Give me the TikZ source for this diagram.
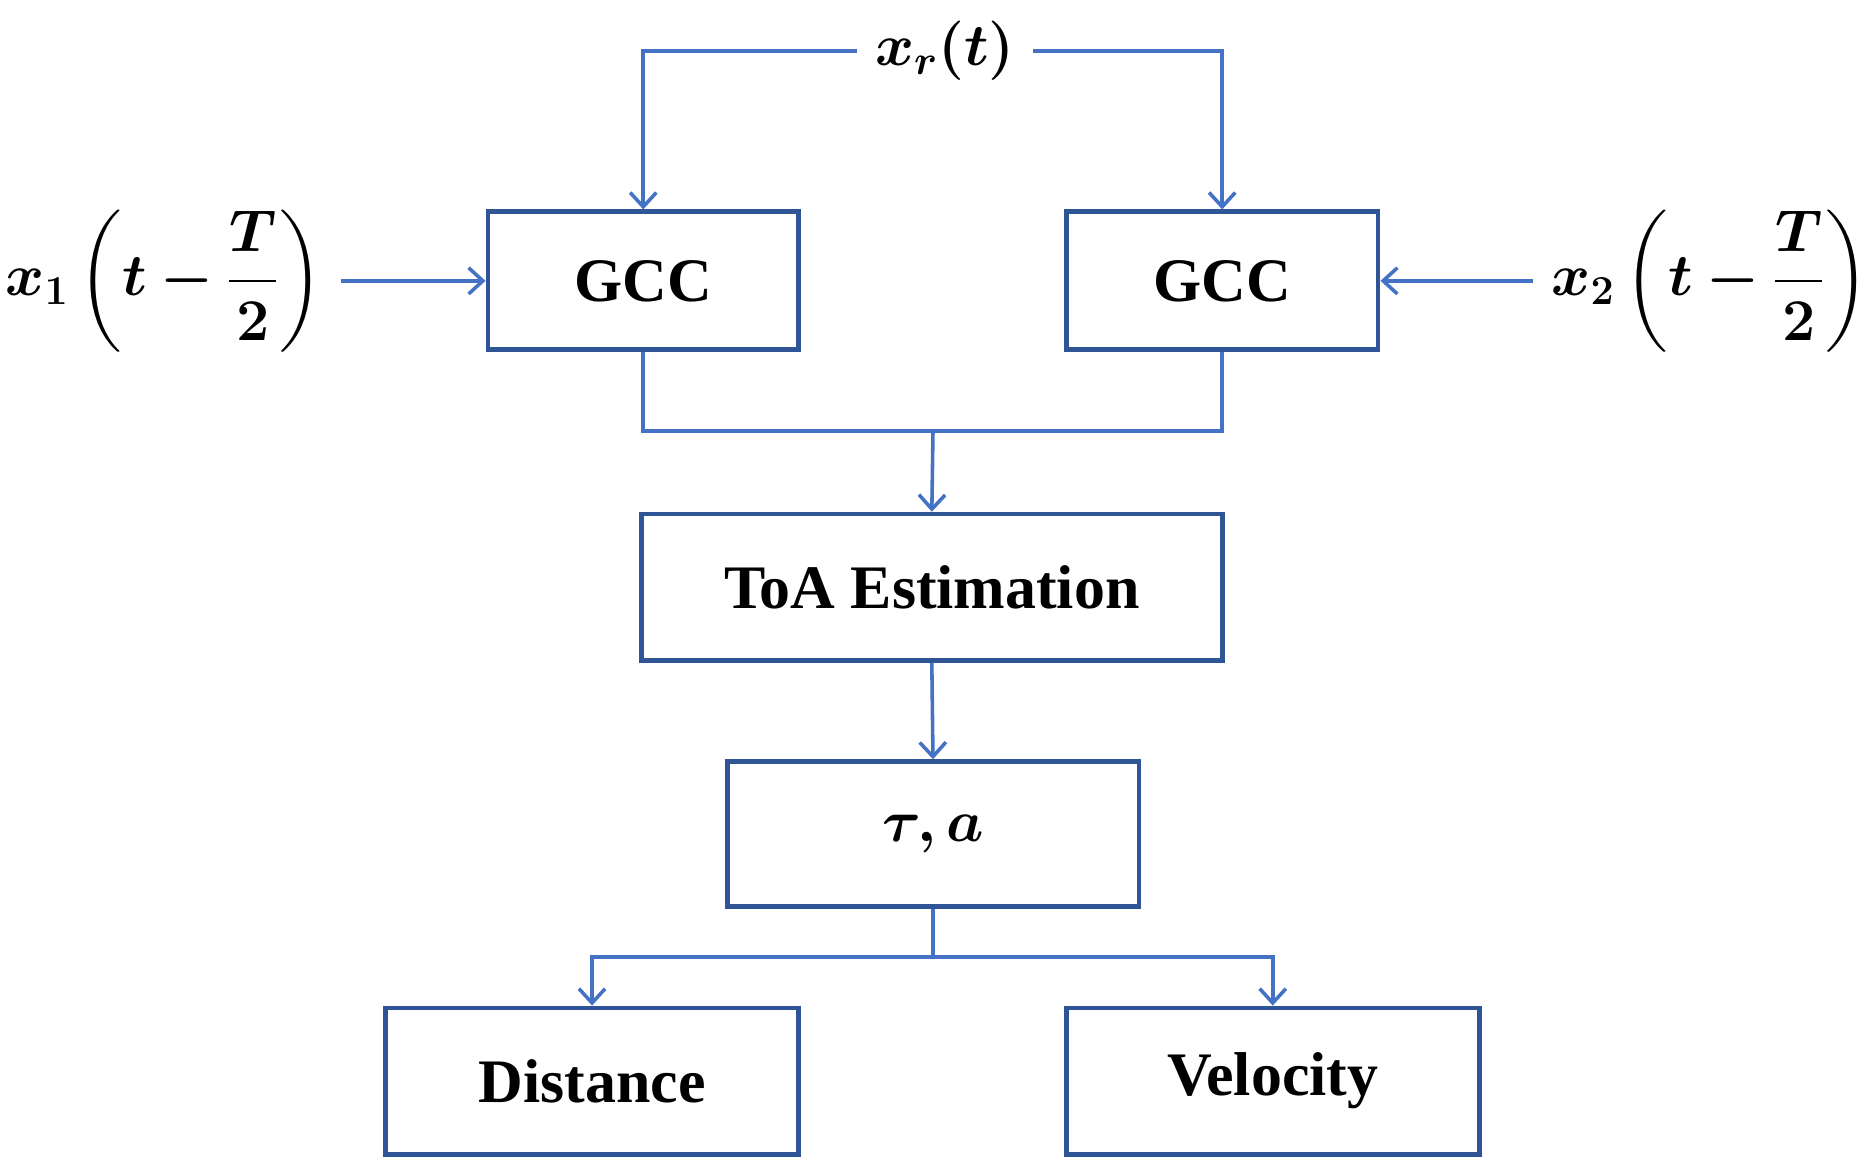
\documentclass[tikz,border=0pt]{standalone}
\usepackage{fontspec}
\usepackage{amsmath,bm}
\setmainfont{Liberation Serif}
\usetikzlibrary{arrows.meta}
\definecolor{bx}{RGB}{47,85,151}
\definecolor{ln}{RGB}{68,114,196}
\begin{document}
\begin{tikzpicture}[x=0.5pt,y=-0.5pt,
  box/.style={draw=bx,line width=2pt,inner sep=0,font=\fontsize{26}{30}\selectfont\bfseries},
  con/.style={draw=ln,line width=1.5pt},
  arr/.style={con,-{Straight Barb[length=6pt,width=11pt,line width=1.5pt]}},
  lbl/.style={inner sep=0,font=\fontsize{26}{30}\selectfont}]
\useasboundingbox (0,0) rectangle (1568,985);
\node[box,minimum width=130.5pt,minimum height=58pt] (g1) at (540.5,236) {GCC};
\node[box,minimum width=131pt,minimum height=58pt] (g2) at (1027,236) {GCC};
\node[box,minimum width=244pt,minimum height=61.5pt] (toa) at (783,493.5) {ToA Estimation};
\node[box,minimum width=173pt,minimum height=61pt] (ta) at (784,701) {$\bm{\tau,a}$};
\node[box,minimum width=173.5pt,minimum height=61.5pt] (d) at (497.5,908.5) {Distance};
\node[box,minimum width=173.5pt,minimum height=61.5pt] (v) at (1069.5,908.5) {Velocity};
\node[lbl] (xr) at (794,43) {$\bm{x_r(t)}$};
\node[lbl] (x1) at (138,236) {$\displaystyle\bm{x_1\left(t-\frac{T}{2}\right)}$};
\node[lbl] (x2) at (1437,236) {$\displaystyle\bm{x_2\left(t-\frac{T}{2}\right)}$};
\coordinate (j) at (784,362);
\coordinate (k) at (784,804);
\draw[arr] (xr.west) ++(-15,0) -| (g1.north);
\draw[arr] (xr.east) ++(15,0) -| (g2.north);
\draw[arr] (x1.east) ++(15,0) -- (g1.west);
\draw[arr] (x2.west) ++(-15,0) -- (g2.east);
\draw[con] (g1.south) |- (j) -| (g2.south);
\draw[arr] (j) -- (toa.north);
\draw[arr] (toa.south) -- (ta.north);
\draw[con] (ta.south) -- (k);
\draw[arr] (k) -| (d.north);
\draw[arr] (k) -| (v.north);
\end{tikzpicture}
\end{document}
